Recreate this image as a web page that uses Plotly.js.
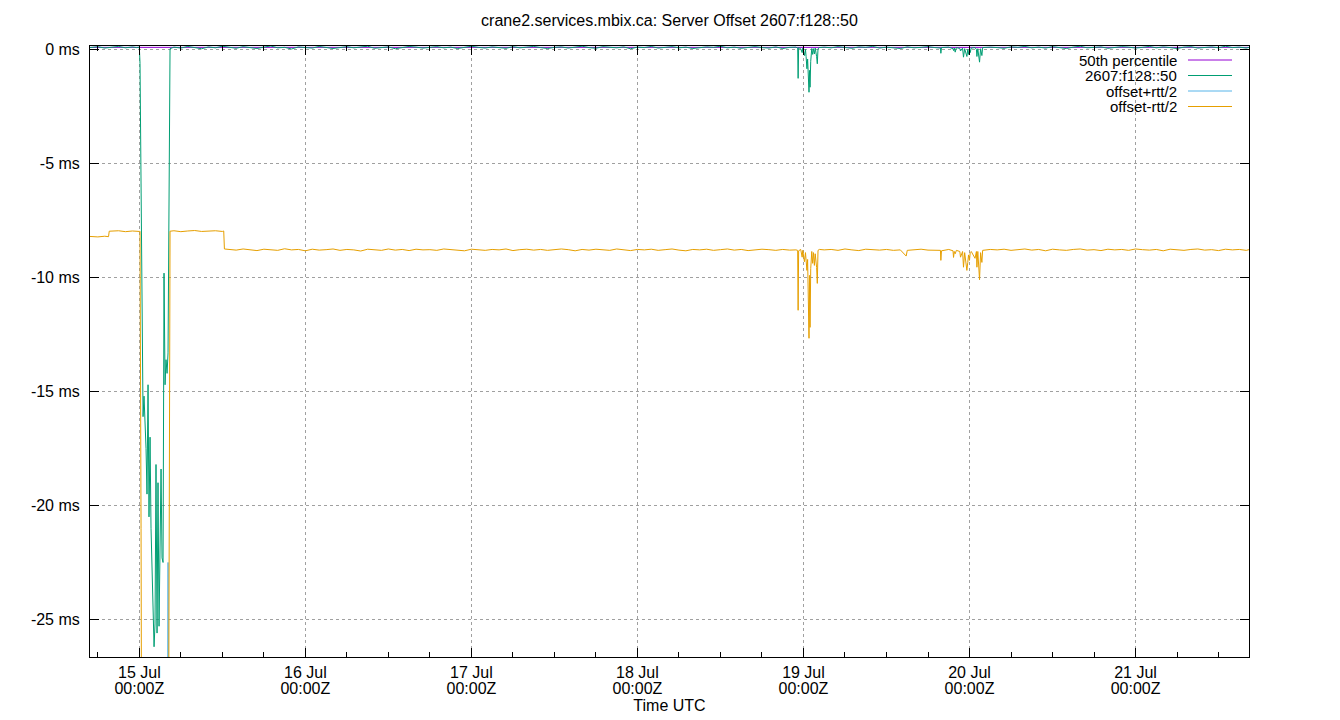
<!DOCTYPE html>
<html>
<head>
<meta charset="utf-8">
<script src="https://cdn.plot.ly/plotly-3.0.1.min.js"></script>
<style>
  html, body { margin: 0; padding: 0; background: #fff; }
  #chart { width: 1340px; height: 720px; }
</style>
</head>
<body>
<div id="chart"></div>
<script>
// ---------- DATA (hours relative to 15 Jul 00:00 UTC, values in ms) ----------
const chartTitle = "crane2.services.mbix.ca: Server Offset 2607:f128::50";
const seriesNames = ["50th percentile", "2607:f128::50", "offset+rtt/2", "offset-rtt/2"];
const dayTickHours = [0, 24, 48, 72, 96, 120, 144];
const dayTickDates = ["15 Jul", "16 Jul", "17 Jul", "18 Jul", "19 Jul", "20 Jul", "21 Jul"];
const dayTickTimes = ["00:00Z", "00:00Z", "00:00Z", "00:00Z", "00:00Z", "00:00Z", "00:00Z"];
const yTickValues = [0, -5, -10, -15, -20, -25];
const yTickLabels = ["0 ms", "-5 ms", "-10 ms", "-15 ms", "-20 ms", "-25 ms"];

const pctHours = [-7.13, 160.4];
const pctValues = [0.11, 0.11];

const offsetHours = [
  -7.13,-6,-5,-4,-3,-2,-1,-0.4,0,
  0.10,0.25,0.39,0.54,0.68,0.82,0.97,1.11,1.26,1.40,1.55,1.69,1.84,1.98,2.13,2.27,2.41,2.56,2.70,2.85,
  2.99,3.14,3.28,3.43,3.57,3.72,3.86,4.01,4.15,4.29,4.44,
  5,6,7,8,9,10,11,12,13,14,15,16,17,18,19,20,21,22,23,24,25,26,27,28,29,30,31,32,33,34,
  35,36,37,38,39,40,41,42,43,44,45,46,47,48,49,50,51,52,53,54,55,56,57,58,59,60,61,62,63,64,
  65,66,67,68,69,70,71,72,73,74,75,76,77,78,79,80,81,82,83,84,85,86,87,88,89,90,91,92,93,94,
  94.9,95.16,95.23,95.30,95.6,95.81,95.9,96.14,96.29,96.38,96.5,96.6,96.68,96.80,96.88,96.95,97.05,
  97.15,97.2,97.33,97.45,97.58,97.7,97.9,98.0,98.1,98.3,
  99,100,101,102,103,104,105,106,107,108,109,110,111,112,113,114,
  115,115.8,115.86,115.95,117,117.62,117.69,117.8,117.93,118.1,118.6,118.7,119.0,119.13,119.3,
  119.62,119.75,119.86,120.0,120.10,120.25,120.8,121.0,121.07,121.2,121.45,121.6,121.79,121.9,
  123,124,125,126,127,128,129,130,131,132,133,134,135,136,137,138,139,140,141,142,143,144,
  145,146,147,148,149,150,151,152,153,154,155,156,157,158,159,160,160.4
];
const offsetValues = [
  0.1,0.14,0.08,0.12,0.15,0.09,0.13,0.1,0.12,
  -0.6,-6.3,-10.6,-16.1,-15.2,-16.3,-17.5,-19.5,-14.7,-20.5,-17.0,-21.0,-23.3,-24.5,-26.2,-25.2,-18.2,-25.6,-19.0,-25.3,
  -20.5,-18.4,-22.3,-22.5,-9.8,-14.7,-13.6,-14.2,-13.3,-7.0,0.05,
  0.12,0.08,0.15,0.1,0.05,0.13,0.09,0.16,0.11,0.07,
  0.14,0.1,0.06,0.12,0.17,0.09,0.11,0.04,0.13,0.1,
  0.08,0.15,0.12,0.06,0.1,0.14,0.09,0.12,0.16,0.07,
  0.11,0.13,0.05,0.1,0.15,0.12,0.08,0.11,0.14,0.09,
  0.12,0.06,0.1,0.16,0.11,0.08,0.13,0.1,0.07,0.14,
  0.09,0.12,0.15,0.1,0.06,0.11,0.13,0.08,0.12,0.16,
  0.1,0.07,0.14,0.11,0.09,0.13,0.05,0.12,0.1,0.15,
  0.08,0.11,0.14,0.09,0.12,0.06,0.1,0.13,0.11,0.16,
  0.09,0.12,0.07,0.11,0.14,0.1,0.08,0.13,0.06,0.11,
  0.12,0.08,-1.25,0.1,0.05,-0.12,0.08,-0.25,0.02,-0.3,-0.83,-0.4,-0.9,-1.86,-0.9,-1.64,-0.5,
  -0.12,0.06,-0.2,0.05,-0.18,0.08,-0.3,-0.61,0.05,0.1,
  0.12,0.09,0.14,0.1,0.07,0.13,0.11,0.15,0.08,0.12,0.1,0.06,0.13,0.09,0.11,0.14,
  0.1,0.08,-0.15,0.1,0.12,0.05,-0.03,0.08,-0.1,0.1,0.06,-0.05,0.08,-0.32,0.05,
  -0.29,0.02,-0.2,0.06,-0.12,0.08,0.1,0.02,-0.29,0.05,-0.54,0.05,-0.25,0.1,
  0.12,0.1,0.07,0.13,0.11,0.15,0.09,0.12,0.08,0.14,0.1,0.06,0.12,0.16,0.09,0.11,0.13,0.07,0.1,0.14,0.12,0.08,
  0.11,0.15,0.09,0.13,0.1,0.06,0.12,0.14,0.08,0.11,0.13,0.09,0.16,0.1,0.12,0.08,0.11
];

const plusHours = [-7.13, 0.10, 0.25, 4.01, 4.15, 4.29, 4.44, 160.4];
const plusValues = [8.8, 8.8, null, -40, -22.5, -40, null, 8.8];

const minusHours = [
  -7.13,-6,-5,-4.45,-4.35,-3,-2,-1,0,0.10,0.25,0.39,4.15,4.29,4.44,
  5,6,7,8,9,10,11,12,12.2,12.3,
  13,14,15,16,17,18,19,20,21,22,23,24,25,26,27,28,29,30,31,32,33,34,35,36,37,38,39,40,41,42,
  43,44,45,46,47,48,49,50,51,52,53,54,55,56,57,58,59,60,61,62,63,64,65,66,67,68,69,70,71,72,
  73,74,75,76,77,78,79,80,81,82,83,84,85,86,87,88,89,90,91,92,93,94,
  94.9,95.16,95.23,95.30,95.6,95.81,95.9,96.14,96.29,96.38,96.5,96.6,96.68,96.80,96.88,96.95,97.05,
  97.15,97.2,97.33,97.45,97.58,97.7,97.9,98.0,98.1,98.3,
  99,100,101,102,103,104,105,106,107,108,109,110,110.85,111,112,113,114,
  115,115.8,115.86,115.95,117,117.62,117.69,117.8,117.93,118.1,118.6,118.7,119.0,119.13,119.3,
  119.62,119.75,119.86,120.0,120.10,120.25,120.8,121.0,121.07,121.2,121.45,121.6,121.79,121.9,
  123,124,125,126,127,128,129,130,131,132,133,134,135,136,137,138,139,140,141,142,143,144,
  145,146,147,148,149,150,151,152,153,154,155,156,157,158,159,160,160.4
];
const minusValues = [
  -8.19,-8.21,-8.18,-8.2,-7.96,-7.94,-7.98,-7.95,-7.97,-7.96,-21.0,-40,-40,-22.0,-7.96,
  -7.94,-7.98,-7.95,-7.93,-7.97,-7.96,-7.94,-7.97,-7.95,-8.74,
  -8.76,-8.79,-8.74,-8.78,-8.81,-8.75,-8.77,-8.8,-8.73,-8.78,
  -8.76,-8.82,-8.75,-8.79,-8.77,-8.74,-8.8,-8.76,-8.78,-8.83,
  -8.75,-8.77,-8.8,-8.74,-8.79,-8.76,-8.81,-8.75,-8.78,-8.77,
  -8.8,-8.74,-8.76,-8.79,-8.82,-8.75,-8.77,-8.8,-8.76,-8.78,
  -8.74,-8.81,-8.77,-8.75,-8.79,-8.76,-8.8,-8.78,-8.74,-8.77,
  -8.82,-8.76,-8.79,-8.75,-8.78,-8.8,-8.74,-8.77,-8.81,-8.76,
  -8.78,-8.75,-8.8,-8.77,-8.74,-8.79,-8.82,-8.76,-8.78,-8.75,
  -8.8,-8.77,-8.74,-8.79,-8.76,-8.81,-8.78,-8.75,-8.77,-8.8,-8.76,-8.79,
  -8.78,-8.8,-11.43,-8.82,-8.76,-9.1,-8.8,-9.3,-8.9,-9.4,-9.68,-9.2,-11.0,-12.66,-9.9,-12.18,-9.6,
  -9.1,-8.85,-9.37,-8.9,-9.46,-8.95,-9.55,-10.25,-8.8,-8.76,
  -8.78,-8.76,-8.8,-8.74,-8.78,-8.81,-8.75,-8.77,-8.79,-8.76,-8.8,-8.78,-9.05,-8.8,-8.77,-8.75,-8.79,
  -8.78,-8.8,-9.24,-8.82,-8.76,-8.82,-9.11,-8.85,-8.95,-8.8,-8.85,-9.1,-8.85,-9.54,-8.9,
  -9.68,-9.33,-9.0,-9.24,-8.9,-8.85,-9.15,-8.85,-9.54,-8.85,-10.09,-8.9,-9.33,-8.8,
  -8.76,-8.78,-8.75,-8.8,-8.77,-8.74,-8.79,-8.76,-8.82,-8.75,-8.78,
  -8.8,-8.76,-8.74,-8.79,-8.77,-8.81,-8.75,-8.78,-8.76,-8.8,
  -8.74,-8.77,-8.79,-8.76,-8.82,-8.75,-8.78,-8.8,-8.76,-8.74,
  -8.79,-8.77,-8.81,-8.75,-8.78,-8.76,-8.8,-8.77
];

const seriesColors = ["#9400d3", "#009e73", "#56b4e9", "#e69f00"];

// ---------- BUILD ----------
const BASE_MS = Date.UTC(2024, 6, 15, 0, 0, 0);
const toMs = h => BASE_MS + h * 3600000;

[[offsetHours, offsetValues], [minusHours, minusValues], [plusHours, plusValues]].forEach(([a, b], i) => {
  if (a.length !== b.length) console.error("length mismatch in series " + i + ": " + a.length + " vs " + b.length);
});

const xStart = -7.13, xEnd = 160.4;
const minorTicks = [];
for (let h = -6; h <= xEnd; h += 6) { if (h % 24 !== 0) minorTicks.push(toMs(h)); }

const mk = (hrs, vals, i) => ({
  type: "scatter", mode: "lines",
  x: hrs.map(toMs), y: vals,
  name: seriesNames[i],
  line: { color: seriesColors[i], width: 1 },
  connectgaps: false, showlegend: false, hoverinfo: "skip"
});

const traces = [
  mk(pctHours, pctValues, 0),
  mk(offsetHours, offsetValues, 1),
  mk(plusHours, plusValues, 2),
  mk(minusHours, minusValues, 3)
];

const FONT = "Liberation Sans, Arial, Helvetica, sans-serif";
const L = 90, R = 91, T = 46, B = 63, W = 1340, H = 720;
const pw = W - L - R, ph = H - T - B;
const px2x = p => (p - L) / pw;
const px2y = p => 1 - (p - T) / ph;

const legendRows = [60, 75.5, 91, 106.5];
const annotations = [], shapes = [];
seriesNames.forEach((n, i) => {
  annotations.push({
    xref: "paper", yref: "paper", x: px2x(1179), y: px2y(legendRows[i]),
    xanchor: "right", yanchor: "middle", text: n, showarrow: false,
    font: { family: FONT, size: 15, color: "#000" }
  });
  shapes.push({
    type: "line", xref: "paper", yref: "paper",
    x0: px2x(1188), x1: px2x(1232), y0: px2y(legendRows[i]), y1: px2y(legendRows[i]),
    line: { color: seriesColors[i], width: 1 }
  });
});

const axisFont = { family: FONT, size: 16, color: "#000" };
const layout = {
  width: W, height: H,
  margin: { l: L, r: R, t: T, b: B, pad: 0 },
  paper_bgcolor: "#fff", plot_bgcolor: "#fff",
  font: axisFont,
  title: { text: chartTitle, font: axisFont,
           xref: "paper", x: 0.5, xanchor: "center", yref: "container", y: 1 - 20 / H, yanchor: "middle" },
  showlegend: false,
  hovermode: false,
  xaxis: {
    type: "date", range: [toMs(xStart), toMs(xEnd)],
    tickmode: "array", tickvals: dayTickHours.map(toMs), ticktext: dayTickDates,
    ticks: "inside", ticklen: 9, tickwidth: 1, tickcolor: "#000",
    showline: true, linecolor: "#000", linewidth: 1, mirror: "ticks",
    showgrid: true, gridcolor: "#a0a0a0", griddash: "dot", gridwidth: 1,
    zeroline: false, ticklabelstandoff: 1,
    minor: { tickmode: "array", tickvals: minorTicks, ticks: "inside", ticklen: 5, tickwidth: 1, tickcolor: "#000", showgrid: false },
    tickfont: axisFont
  },
  xaxis2: {
    type: "date", overlaying: "x", matches: "x", anchor: "y", side: "bottom",
    range: [toMs(xStart), toMs(xEnd)],
    tickmode: "array", tickvals: dayTickHours.map(toMs), ticktext: dayTickTimes,
    ticks: "", showline: false, showgrid: false, zeroline: false,
    ticklabelstandoff: 20,
    tickfont: axisFont,
    title: { text: "Time UTC", font: axisFont, standoff: 3 }
  },
  yaxis: {
    range: [-26.65, 0.17],
    tickmode: "array", tickvals: yTickValues, ticktext: yTickLabels,
    ticks: "inside", ticklen: 9, tickwidth: 1, tickcolor: "#000",
    showline: true, linecolor: "#000", linewidth: 1, mirror: "ticks",
    showgrid: true, gridcolor: "#a0a0a0", griddash: "dot", gridwidth: 1,
    zeroline: false, ticklabelstandoff: 6,
    tickfont: axisFont
  },
  annotations: annotations,
  shapes: shapes
};

// invisible anchor trace for the second (label-only) x axis
traces.push({ type: "scatter", mode: "lines", x: [toMs(xStart)], y: [null], xaxis: "x2", yaxis: "y",
              showlegend: false, hoverinfo: "skip" });

Plotly.newPlot("chart", traces, layout, { displayModeBar: false, staticPlot: true });
</script>
</body>
</html>
